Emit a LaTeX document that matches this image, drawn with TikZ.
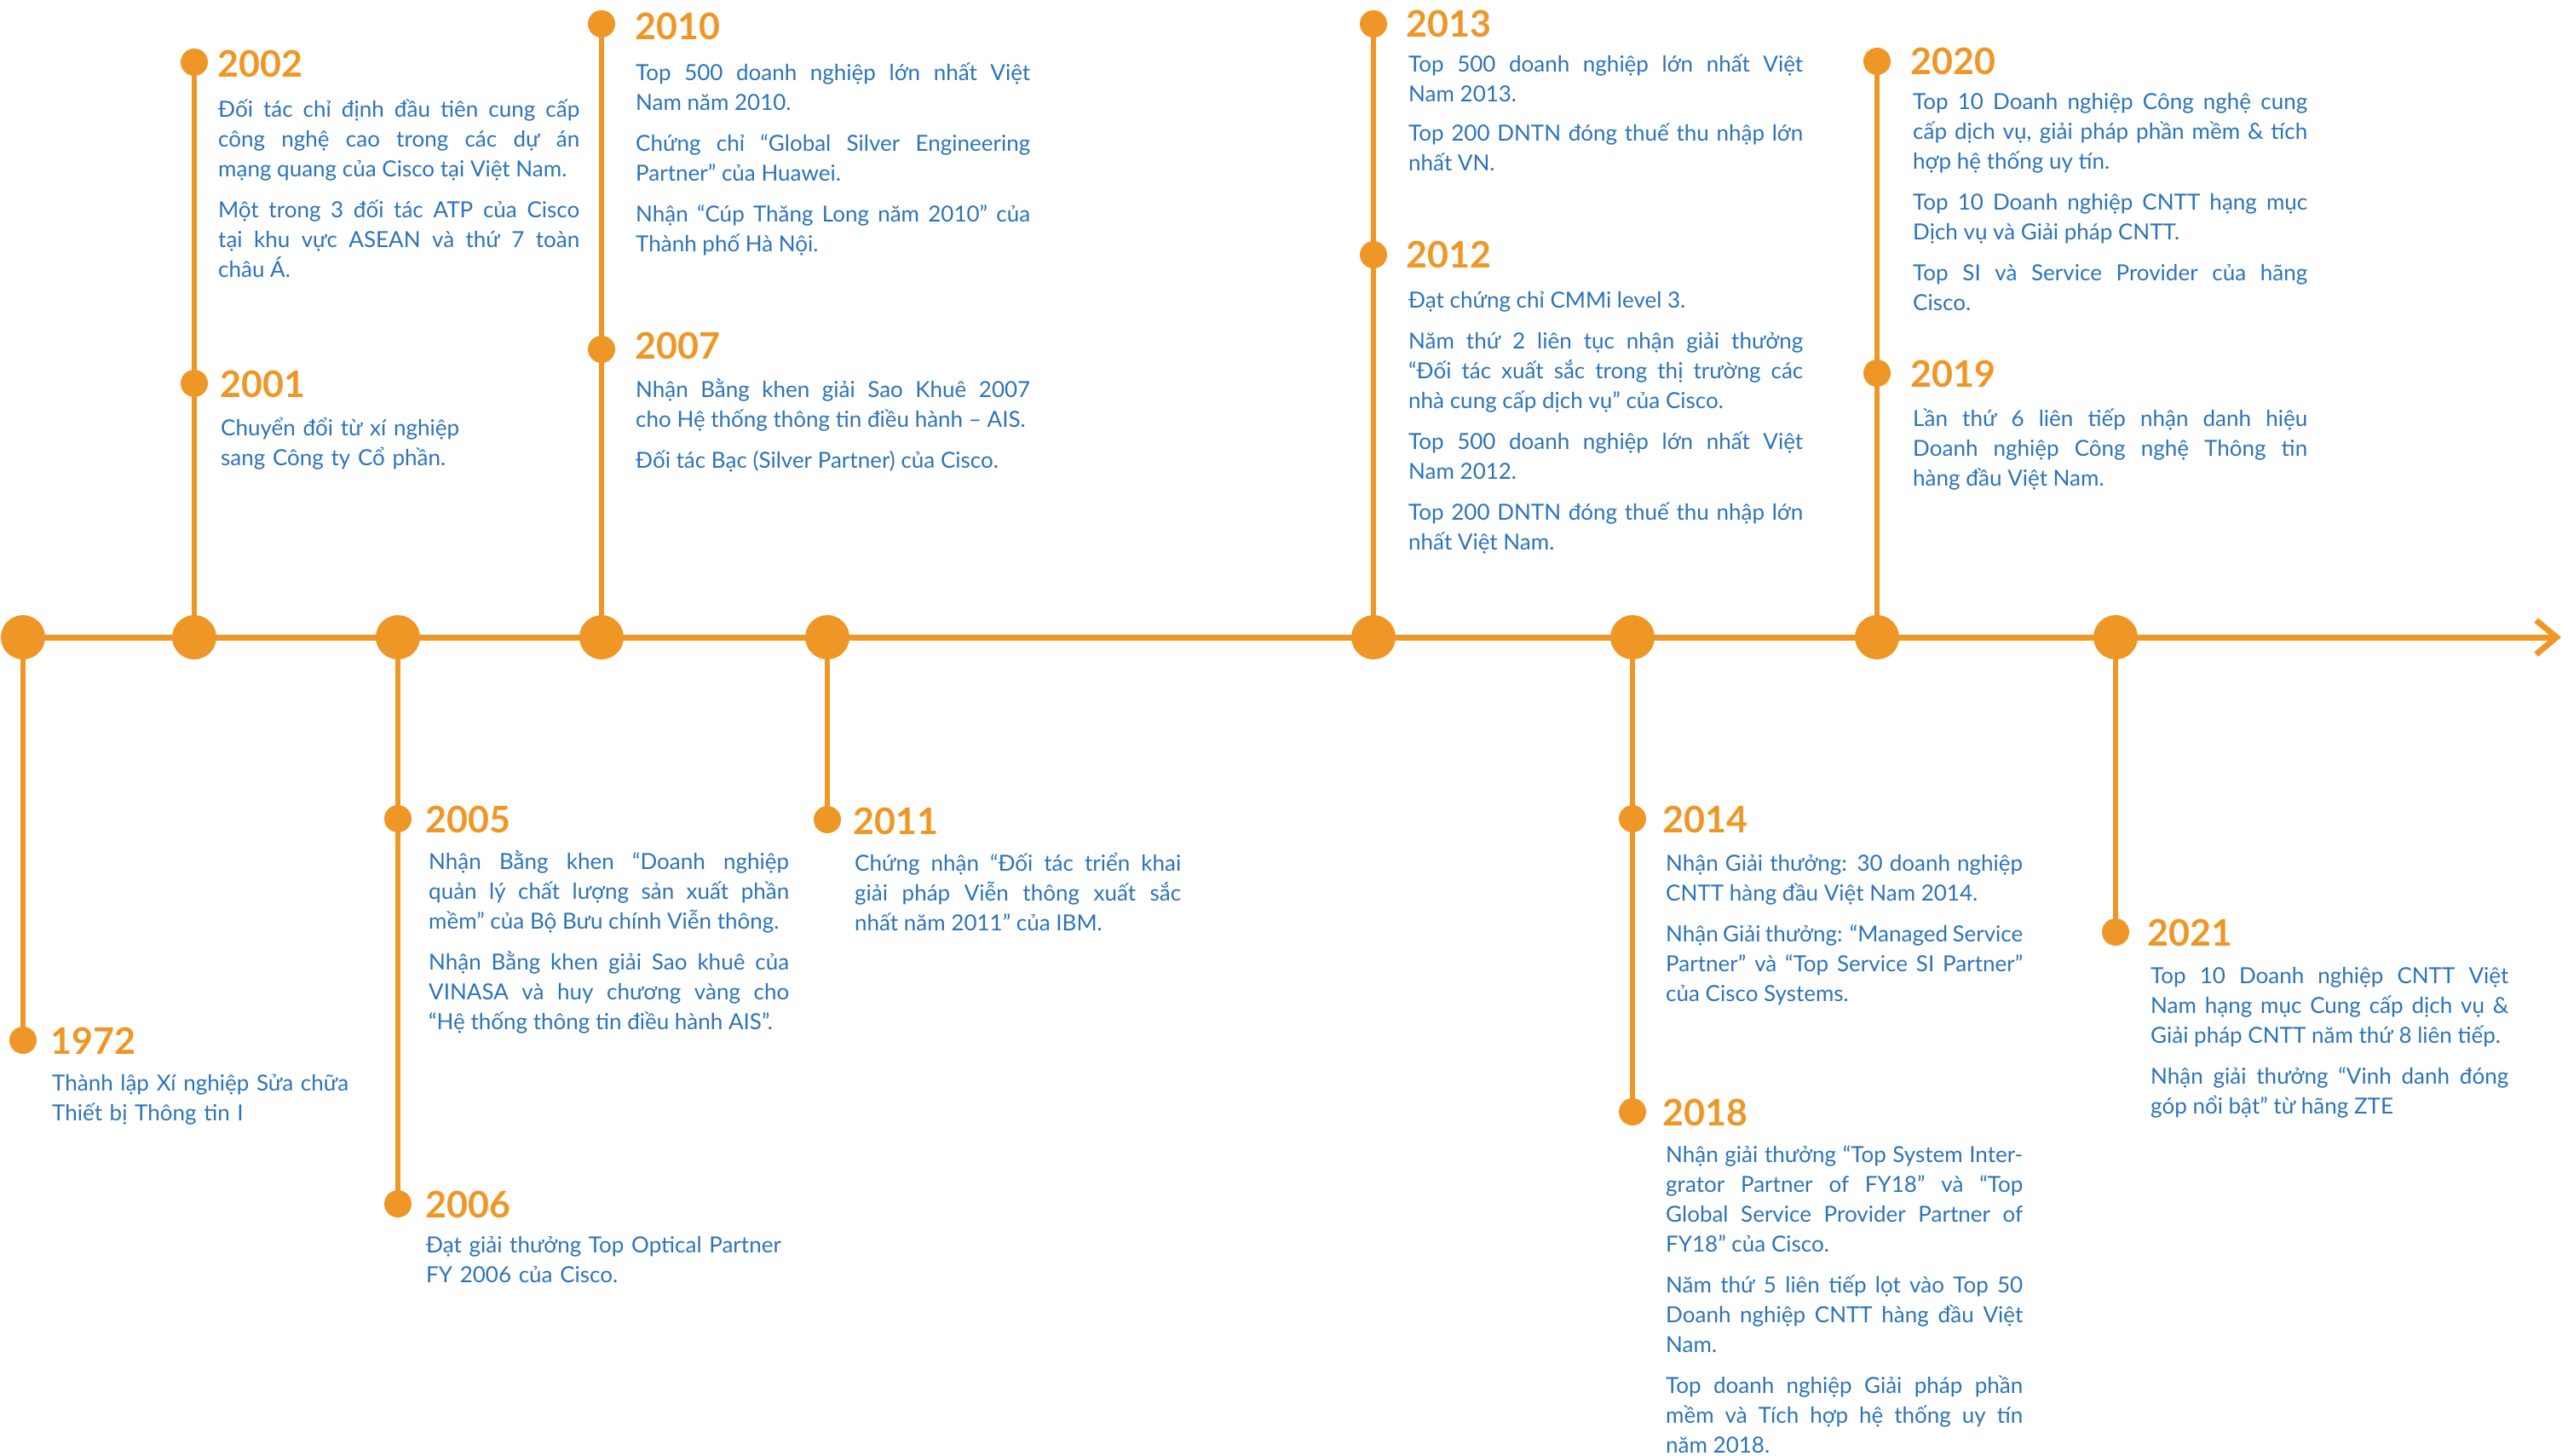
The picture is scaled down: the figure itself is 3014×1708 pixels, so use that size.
\documentclass[tikz,border=0pt]{standalone}
\usepackage{fontspec}
\setmainfont{Lato}
\usetikzlibrary{arrows.meta}
\definecolor{tlorange}{RGB}{239,151,38}
\definecolor{tlblue}{RGB}{44,116,184}
\newcommand\bodyfnt{\fontsize{26}{35}\selectfont\parindent=0pt\tolerance=10000\hbadness=10000\relax}
\newcommand\yearfnt{\fontsize{43}{43}\selectfont\bfseries}
\begin{document}
\begin{tikzpicture}[x=1pt,y=-1pt,
  axisline/.style={line width=7pt, draw=tlorange},
  stem/.style={line width=5.5pt, draw=tlorange},
  bigdot/.style={circle, fill=tlorange, minimum size=52pt, inner sep=0pt},
  smalldot/.style={circle, fill=tlorange, minimum size=32pt, inner sep=0pt},
  yearlbl/.style={anchor=west, inner sep=0pt, text=tlorange, font=\yearfnt},
  bodytxt/.style={anchor=base west, inner sep=0pt, text=tlblue, font=\bodyfnt, align=justify, text width=#1},
  plaintxt/.style={anchor=base west, inner sep=0pt, text=tlblue, font=\bodyfnt, align=left, text width=500pt}]
\useasboundingbox (0,0) rectangle (3014,1708);
% axis circles
\node[bigdot] (c1) at (27,748) {};
\node[bigdot] (c2) at (228,748) {};
\node[bigdot] (c3) at (467,748) {};
\node[bigdot] (c4) at (706,748) {};
\node[bigdot] (c5) at (971,748) {};
\node[bigdot] (c6) at (1612,748) {};
\node[bigdot] (c7) at (1916,748) {};
\node[bigdot] (c8) at (2203,748) {};
\node[bigdot] (c9) at (2483,748) {};
\coordinate (axend) at (3006,748);
% event dots
\node[smalldot] (d1972) at (27,1221) {};
\node[smalldot] (d2002) at (228,73) {};
\node[smalldot] (d2001) at (228,450) {};
\node[smalldot] (d2005) at (467,961) {};
\node[smalldot] (d2006) at (467,1413) {};
\node[smalldot] (d2010) at (706,28) {};
\node[smalldot] (d2007) at (706,410) {};
\node[smalldot] (d2011) at (971,962) {};
\node[smalldot] (d2013) at (1612,28) {};
\node[smalldot] (d2012) at (1612,299) {};
\node[smalldot] (d2020) at (2203,72) {};
\node[smalldot] (d2019) at (2203,438) {};
\node[smalldot] (d2014) at (1916,961) {};
\node[smalldot] (d2018) at (1916,1305) {};
\node[smalldot] (d2021) at (2483,1094) {};
% connectors
\draw[axisline, -{Straight Barb[length=24pt,width=40pt]}] (c1.center) -- (axend);
\draw[stem] (c1.center) -- (d1972.center);
\draw[stem] (c2.center) -- (d2002.center);
\draw[stem] (c3.center) -- (d2006.center);
\draw[stem] (c4.center) -- (d2010.center);
\draw[stem] (c5.center) -- (d2011.center);
\draw[stem] (c6.center) -- (d2013.center);
\draw[stem] (c7.center) -- (d2018.center);
\draw[stem] (c8.center) -- (d2020.center);
\draw[stem] (c9.center) -- (d2021.center);
% years
\node[yearlbl] (y1972) at (59,1222) {1972};
\node[yearlbl] (y2002) at (255,75) {2002};
\node[yearlbl] (y2001) at (258,451) {2001};
\node[yearlbl] (y2005) at (499,962) {2005};
\node[yearlbl] (y2006) at (499,1414) {2006};
\node[yearlbl] (y2010) at (745,31) {2010};
\node[yearlbl] (y2007) at (745,406) {2007};
\node[yearlbl] (y2011) at (1001,964) {2011};
\node[yearlbl] (y2013) at (1650,28) {2013};
\node[yearlbl] (y2012) at (1650,299) {2012};
\node[yearlbl] (y2020) at (2242,72) {2020};
\node[yearlbl] (y2019) at (2242,439) {2019};
\node[yearlbl] (y2014) at (1951,962) {2014};
\node[yearlbl] (y2018) at (1951,1306) {2018};
\node[yearlbl] (y2021) at (2520,1095) {2021};
% texts
\node[plaintxt] (t1972) at (61,1280) {Thành lập Xí nghiệp Sửa chữa\\Thiết bị Thông tin I};
\node[bodytxt=424pt] (t2002) at (256,137) {Đối tác chỉ định đầu tiên cung cấp\linebreak công nghệ cao trong các dự án\linebreak mạng quang của Cisco tại Việt Nam.\\[13pt]Một trong 3 đối tác ATP của Cisco\linebreak tại khu vực ASEAN và thứ 7 toàn\linebreak châu Á.};
\node[plaintxt] (t2001) at (259,511) {Chuyển đổi từ xí nghiệp\\sang Công ty Cổ phần.};
\node[bodytxt=423pt] (t2005) at (503,1020) {Nhận Bằng khen “Doanh nghiệp\linebreak quản lý chất lượng sản xuất phần\linebreak mềm” của Bộ Bưu chính Viễn thông.\\[13pt]Nhận Bằng khen giải Sao khuê của\linebreak VINASA và huy chương vàng cho\linebreak “Hệ thống thông tin điều hành AIS”.};
\node[plaintxt] (t2006) at (500,1470) {Đạt giải thưởng Top Optical Partner\\FY 2006 của Cisco.};
\node[bodytxt=463pt] (t2010) at (746,94) {Top 500 doanh nghiệp lớn nhất Việt\linebreak Nam năm 2010.\\[13pt]Chứng chỉ “Global Silver Engineering\linebreak Partner” của Huawei.\\[13pt]Nhận “Cúp Thăng Long năm 2010” của\linebreak Thành phố Hà Nội.};
\node[bodytxt=463pt] (t2007) at (746,466) {Nhận Bằng khen giải Sao Khuê 2007\linebreak cho Hệ thống thông tin điều hành – AIS.\\[13pt]Đối tác Bạc (Silver Partner) của Cisco.};
\node[bodytxt=383pt] (t2011) at (1003,1022) {Chứng nhận “Đối tác triển khai\linebreak giải pháp Viễn thông xuất sắc\linebreak nhất năm 2011” của IBM.};
\node[bodytxt=463pt] (t2013) at (1653,84) {Top 500 doanh nghiệp lớn nhất Việt\linebreak Nam 2013.\\[11pt]Top 200 DNTN đóng thuế thu nhập lớn\linebreak nhất VN.};
\node[bodytxt=463pt] (t2012) at (1653,361) {Đạt chứng chỉ CMMi level 3.\\[13pt]Năm thứ 2 liên tục nhận giải thưởng\linebreak “Đối tác xuất sắc trong thị trường các\linebreak nhà cung cấp dịch vụ” của Cisco.\\[13pt]Top 500 doanh nghiệp lớn nhất Việt\linebreak Nam 2012.\\[13pt]Top 200 DNTN đóng thuế thu nhập lớn\linebreak nhất Việt Nam.};
\node[bodytxt=463pt] (t2020) at (2245,128) {Top 10 Doanh nghiệp Công nghệ cung\linebreak cấp dịch vụ, giải pháp phần mềm \& tích\linebreak hợp hệ thống uy tín.\\[13pt]Top 10 Doanh nghiệp CNTT hạng mục\linebreak Dịch vụ và Giải pháp CNTT.\\[13pt]Top SI và Service Provider của hãng\linebreak Cisco.};
\node[bodytxt=463pt] (t2019) at (2245,500) {Lần thứ 6 liên tiếp nhận danh hiệu\linebreak Doanh nghiệp Công nghệ Thông tin\linebreak hàng đầu Việt Nam.};
\node[bodytxt=419pt] (t2014) at (1955,1022) {Nhận Giải thưởng: 30 doanh nghiệp\linebreak CNTT hàng đầu Việt Nam 2014.\\[13pt]Nhận Giải thưởng: “Managed Service\linebreak Partner” và “Top Service SI Partner”\linebreak của Cisco Systems.};
\node[bodytxt=419pt] (t2018) at (1955,1364) {Nhận giải thưởng “Top System Inter-\linebreak grator Partner of FY18” và “Top\linebreak Global Service Provider Partner of\linebreak FY18” của Cisco.\\[13pt]Năm thứ 5 liên tiếp lọt vào Top 50\linebreak Doanh nghiệp CNTT hàng đầu Việt\linebreak Nam.\\[13pt]Top doanh nghiệp Giải pháp phần\linebreak mềm và Tích hợp hệ thống uy tín\linebreak năm 2018.};
\node[bodytxt=420pt] (t2021) at (2524,1154) {Top 10 Doanh nghiệp CNTT Việt\linebreak Nam hạng mục Cung cấp dịch vụ \&\linebreak Giải pháp CNTT năm thứ 8 liên tiếp.\\[13pt]Nhận giải thưởng “Vinh danh đóng\linebreak góp nổi bật” từ hãng ZTE};
\end{tikzpicture}
\end{document}
